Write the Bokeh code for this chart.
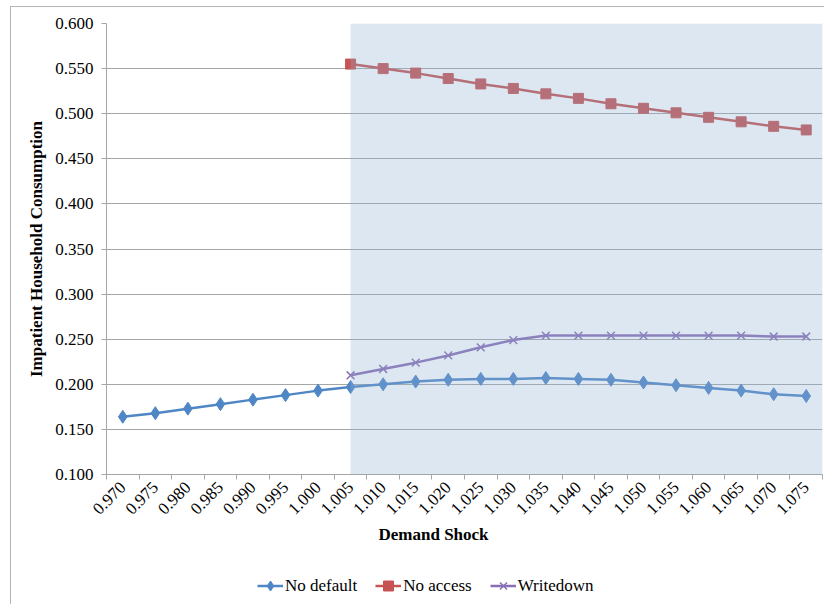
from bokeh.plotting import figure
from bokeh.layouts import column
from bokeh.models import (ColumnDataSource, FixedTicker, NumeralTickFormatter,
                          BoxAnnotation, Legend, LegendItem, Title, Range1d)
from bokeh.embed import file_html
from bokeh.resources import INLINE
import math

# Demand shock grid (x categories)
shock = [0.970, 0.975, 0.980, 0.985, 0.990, 0.995, 1.000, 1.005, 1.010, 1.015, 1.020,
         1.025, 1.030, 1.035, 1.040, 1.045, 1.050, 1.055, 1.060, 1.065, 1.070, 1.075]

# Impatient household consumption under each regime
no_default = [0.164, 0.168, 0.173, 0.178, 0.183, 0.188, 0.193, 0.197, 0.200, 0.203, 0.205,
              0.206, 0.206, 0.207, 0.206, 0.205, 0.202, 0.199, 0.196, 0.193, 0.189, 0.187]
shock_alt = [1.005, 1.010, 1.015, 1.020, 1.025, 1.030, 1.035, 1.040, 1.045, 1.050,
             1.055, 1.060, 1.065, 1.070, 1.075]
no_access = [0.555, 0.550, 0.545, 0.539, 0.533, 0.528, 0.522, 0.517, 0.511, 0.506,
             0.501, 0.496, 0.491, 0.486, 0.482]
writedown = [0.210, 0.217, 0.224, 0.232, 0.241, 0.249, 0.254, 0.254, 0.254, 0.254,
             0.254, 0.254, 0.254, 0.253, 0.253]

y_ticks = [0.100, 0.150, 0.200, 0.250, 0.300, 0.350, 0.400, 0.450, 0.500, 0.550, 0.600]

series_names = ["No default", "No access", "Writedown"]

FONT = "Liberation Serif"
BLUE, RED, PURPLE = "#4f86c6", "#c65452", "#8a6fb5"
GRID = "#a6a6a6"

step = shock[1] - shock[0]
p = figure(width=813, height=545, output_backend="svg", toolbar_location=None,
           x_range=Range1d(shock[0] - step / 2, shock[-1] + step / 2),
           y_range=Range1d(y_ticks[0], y_ticks[-1]),
           min_border_left=95, min_border_right=2, min_border_top=16, min_border_bottom=78)
p.outline_line_color = None
p.background_fill_color = "white"
p.border_fill_color = "white"

# x axis: labels at category centres, tick marks on category boundaries
bounds = [s - step / 2 for s in shock] + [shock[-1] + step / 2]
p.xaxis.ticker = FixedTicker(ticks=shock, minor_ticks=bounds)
p.xaxis.formatter = NumeralTickFormatter(format="0.000")
p.xaxis.major_label_orientation = math.pi / 4
p.xaxis.major_tick_line_color = None
p.xaxis.minor_tick_in = 0
p.xaxis.minor_tick_out = 5
p.xaxis.minor_tick_line_color = GRID
p.xaxis.axis_line_color = GRID
p.xaxis.major_label_text_font = FONT
p.xaxis.major_label_text_font_size = "17px"
p.xaxis.major_label_text_color = "black"
p.xaxis.major_label_standoff = 4
p.xgrid.visible = False

p.yaxis.ticker = FixedTicker(ticks=y_ticks, minor_ticks=[])
p.yaxis.formatter = NumeralTickFormatter(format="0.000")
p.yaxis.major_tick_in = 0
p.yaxis.major_tick_out = 5
p.yaxis.major_tick_line_color = GRID
p.yaxis.axis_line_color = GRID
p.yaxis.major_label_text_font = FONT
p.yaxis.major_label_text_font_size = "17px"
p.yaxis.major_label_text_color = "black"
p.yaxis.major_label_standoff = 8
p.yaxis.axis_label = "Impatient Household Consumption"
p.yaxis.axis_label_text_font = FONT
p.yaxis.axis_label_text_font_size = "17px"
p.yaxis.axis_label_text_font_style = "bold"
p.yaxis.axis_label_text_color = "black"
p.yaxis.axis_label_standoff = 6
p.ygrid.grid_line_color = GRID
p.ygrid.grid_line_width = 1

src = ColumnDataSource(dict(x=shock, y=no_default))
src_alt = ColumnDataSource(dict(x=shock_alt, acc=no_access, wd=writedown))

styles = [
    dict(color=BLUE, marker="diamond", size=13),
    dict(color=RED, marker="square", size=10),
    dict(color=PURPLE, marker="x", size=11),
]
series = [(src, "y"), (src_alt, "acc"), (src_alt, "wd")]


def draw(fig, source, ycol, st):
    ln = fig.line("x", ycol, source=source, line_color=st["color"], line_width=2.5)
    mk = fig.scatter("x", ycol, source=source, marker=st["marker"], size=st["size"],
                     fill_color=st["color"], line_color=st["color"],
                     line_width=1.5 if st["marker"] == "x" else 1)
    return ln, mk


for (source, col), st in zip(series, styles):
    draw(p, source, col, st)

# shaded region from the first shock above one onwards
p.add_layout(BoxAnnotation(left=shock_alt[0], fill_color="#8eafd0", fill_alpha=0.3,
                           line_color=None))

# x axis title, placed a little left of the plot centre
p.add_layout(Title(text="Demand Shock", align="left", offset=272, text_font=FONT,
                   text_font_size="17px", text_font_style="bold", text_color="black",
                   standoff=0), "below")

# legend strip underneath the chart; its series sit outside its visible ranges,
# so only the legend entries show
leg = figure(width=813, height=53, output_backend="svg", toolbar_location=None,
             x_range=Range1d(0, 1), y_range=Range1d(10, 11),
             min_border=0, x_axis_type=None, y_axis_type=None)
leg.outline_line_color = None
leg.grid.visible = False
leg.background_fill_color = "white"
leg.border_fill_color = "white"
items = []
for name, (source, col), st in zip(series_names, series, styles):
    ln, mk = draw(leg, source, col, st)
    items.append(LegendItem(label=name, renderers=[ln, mk]))

legend = Legend(items=items, orientation="horizontal", location=(151, 7),
                label_text_font=FONT, label_text_font_size="17px",
                label_text_color="black", glyph_width=26, glyph_height=25,
                label_standoff=2, spacing=18, padding=0, margin=0,
                border_line_color=None, background_fill_alpha=0)
leg.add_layout(legend, "center")

layout = column(p, leg, spacing=0)
layout.margin = (6, 0, 0, 10)
layout.styles = {"border": "1px solid #b4b4b4", "background-color": "white"}

open("out.html", "w").write(file_html(layout, INLINE))
